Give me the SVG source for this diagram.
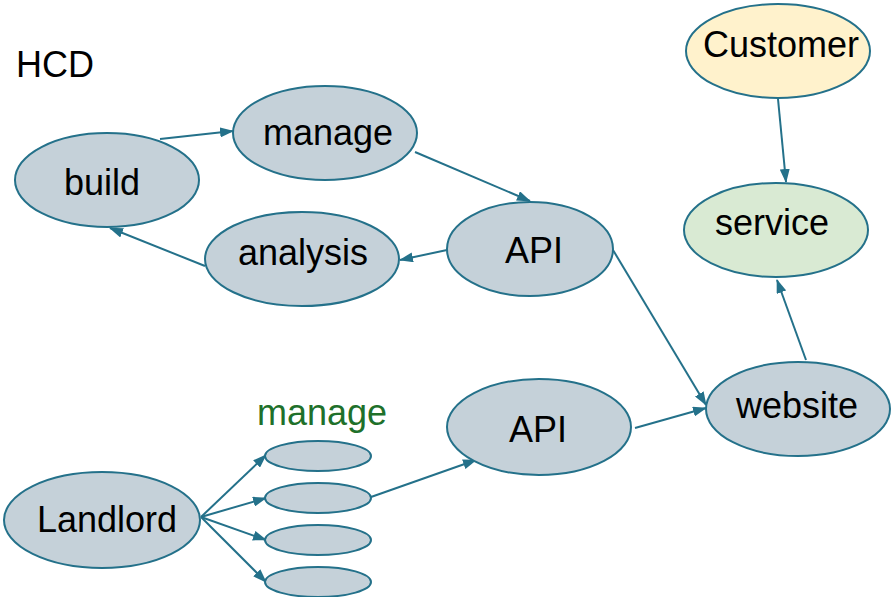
<svg xmlns="http://www.w3.org/2000/svg" width="894" height="597" viewBox="0 0 894 597">
<defs>
<style>
.n{fill:#c5d1d9;stroke:#24718a;stroke-width:2}
.t{font-family:"Liberation Sans",Arial,sans-serif;font-size:36px;fill:#000;text-anchor:middle}
.c{stroke:#24718a;stroke-width:2;fill:none;marker-end:url(#ah)}
</style>
<marker id="ah" markerUnits="userSpaceOnUse" markerWidth="14" markerHeight="10" refX="13" refY="5" orient="auto">
<path d="M0,0 L14,5 L0,10 Z" fill="#24718a"/>
</marker>
</defs>
<rect width="894" height="597" fill="#fff"/>
<text class="t" x="55" y="77">HCD</text>
<text class="t" x="322" y="425" style="fill:#20702a">manage</text>
<g id="connectors">
<line class="c" x1="160" y1="139" x2="233" y2="131"/>
<line class="c" x1="415" y1="152" x2="530" y2="201"/>
<line class="c" x1="447" y1="250" x2="400" y2="260"/>
<line class="c" x1="205" y1="266" x2="110" y2="228"/>
<line class="c" x1="613" y1="250" x2="706" y2="405"/>
<line class="c" x1="635" y1="428" x2="706" y2="408"/>
<line class="c" x1="806" y1="360" x2="777" y2="280"/>
<line class="c" x1="778" y1="99" x2="786" y2="182"/>
<line class="c" x1="201" y1="517" x2="266" y2="455"/>
<line class="c" x1="201" y1="517" x2="266" y2="498"/>
<line class="c" x1="201" y1="517" x2="266" y2="540"/>
<line class="c" x1="201" y1="517" x2="266" y2="582"/>
<line class="c" x1="371" y1="497" x2="476" y2="460"/>
</g>
<g id="build"><ellipse class="n" cx="107" cy="180" rx="92" ry="47"/><text class="t" x="102" y="195">build</text></g>
<g id="manage"><ellipse class="n" cx="325" cy="133" rx="92" ry="47"/><text class="t" x="328" y="145">manage</text></g>
<g id="analysis"><ellipse class="n" cx="302" cy="259" rx="97" ry="47"/><text class="t" x="303" y="265">analysis</text></g>
<g id="api1"><ellipse class="n" cx="530" cy="249" rx="83" ry="47"/><text class="t" x="534" y="263">API</text></g>
<g id="customer"><ellipse class="n" cx="778" cy="51" rx="92" ry="47" style="fill:#fff2cc"/><text class="t" x="781" y="57">Customer</text></g>
<g id="service"><ellipse class="n" cx="776" cy="230" rx="92" ry="47" style="fill:#d9ead3"/><text class="t" x="772" y="235">service</text></g>
<g id="website"><ellipse class="n" cx="798" cy="409" rx="92" ry="47"/><text class="t" x="797" y="418">website</text></g>
<g id="api2"><ellipse class="n" cx="539" cy="427" rx="92" ry="48"/><text class="t" x="538" y="442">API</text></g>
<g id="landlord"><ellipse class="n" cx="102" cy="520" rx="98" ry="48"/><text class="t" x="107" y="532">Landlord</text></g>
<g id="small1"><ellipse class="n" cx="318" cy="456" rx="53" ry="15"/></g>
<g id="small2"><ellipse class="n" cx="318" cy="498" rx="53" ry="15"/></g>
<g id="small3"><ellipse class="n" cx="318" cy="540" rx="53" ry="15"/></g>
<g id="small4"><ellipse class="n" cx="318" cy="582" rx="53" ry="15"/></g>
</svg>
